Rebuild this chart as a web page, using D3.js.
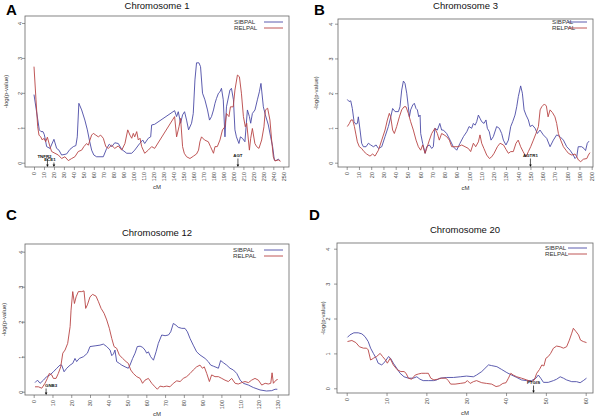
<!DOCTYPE html>
<html><head><meta charset="utf-8">
<script src="https://cdn.jsdelivr.net/npm/d3@7"></script>
<style>body{margin:0;background:#fff}svg{display:block;font-family:"Liberation Sans",Arial,sans-serif}</style>
</head><body><svg id="c" width="600" height="420"></svg>
<script>
// ---------- DATA ----------
const seriesNames = ["SIBPAL", "RELPAL"];
const yTicks = [0, 1, 2, 3, 4];

const chr1Ticks = [0,10,20,30,40,50,60,70,80,90,100,110,120,130,140,150,160,170,180,190,200,210,220,230,240,250];
const chr1Sibpal = [[0,1.95],[5.3,0.94],[7,0.89],[9,0.89],[10.4,0.8],[12.7,0.46],[16,0.41],[20,0.67],[22.7,0.41],[25,0.36],[27.7,0.22],[32.7,0.25],[36,0.38],[39.4,0.46],[42,0.49],[43.4,0.74],[45,1.7],[47.8,1.51],[51,1.22],[53.5,0.94],[55.5,0.65],[57.8,0.36],[60,0.22],[62.8,0.17],[69.5,0.17],[72.9,0.41],[75.5,0.53],[78,0.46],[81,0.57],[84.5,0.55],[88,0.38],[93,0.27],[98,0.27],[101,0.36],[106,0.55],[109,0.65],[111,0.55],[114.6,0.7],[117,0.74],[118,1.08],[121,1.1],[141,1.49],[143,1.32],[144.7,1.46],[147,1.13],[149,1.37],[151,1.46],[153,1.22],[155,0.94],[158,1.13],[159.7,1.41],[161.4,2.37],[163,2.86],[165.4,2.86],[167,2.75],[169,1.99],[171.4,1.8],[174,1.51],[176,1.22],[178,1.32],[180,1.51],[181.5,1.7],[183,1.84],[185,1.99],[186.5,2.03],[188,2.13],[189.8,1.8],[191.5,0.74],[193,1.6],[196.5,2.08],[198,2.13],[200,1.8],[201.5,0.94],[203,0.74],[205.5,0.55],[207,0.74],[209,0.7],[211.5,0.6],[214,1.51],[216,1.32],[217.3,1.13],[219,1.41],[221.6,1.51],[224,1.8],[226,2.03],[227.6,2.27],[230,1.6],[232,1.37],[235,1.08],[237.3,0.74],[239.3,0.46],[241,0.08],[242.6,0.06],[245,0.1],[246.6,0.06]];
const chr1Relpal = [[0,2.75],[2,1.8],[3.7,1.03],[5,0.79],[6.7,0.74],[8.4,0.65],[10,0.7],[11.7,0.6],[13.4,0.73],[16,0.46],[17.7,0.32],[21,0.27],[24.4,0.22],[27.7,0.12],[31,0.17],[34.4,0.06],[37.8,0.12],[41,0.17],[44.4,0.32],[47.8,0.36],[50,0.46],[52.8,0.55],[54.5,0.5],[56.1,0.65],[57.8,0.79],[59.5,0.84],[62,0.79],[64.5,0.74],[66.8,0.79],[69.5,0.7],[72,0.46],[74.5,0.41],[77.8,0.5],[81,0.41],[84.5,0.48],[88,0.36],[91.2,0.55],[94,0.94],[96.2,0.79],[98,0.7],[99.6,0.84],[101,0.74],[103,0.89],[104.6,0.65],[106.3,0.7],[108,0.46],[111,0.27],[114.6,0.36],[118,0.46],[121,0.41],[141,1.32],[143,0.74],[145.4,1.03],[147,1.27],[149,0.46],[150.7,0.27],[153,0.17],[156.4,0.12],[160,0.19],[163,0.25],[165,0.36],[166.4,0.6],[168,0.74],[171,0.65],[174.8,0.6],[177,0.46],[180,0.27],[181.5,0.46],[183.8,0.46],[186.5,0.65],[189,0.94],[191.5,1.03],[193,1.41],[195.5,1.32],[197,1.6],[199.8,1.6],[201.5,2.08],[204,2.51],[206,2.46],[208,1.99],[210,1.32],[211.9,1.03],[213.3,1.13],[215,0.65],[216,0.36],[217.3,0.7],[219,0.98],[221.5,0.55],[223.3,0.46],[225.6,0.41],[228.3,0.65],[230.6,1.03],[232,1.51],[234.3,1.56],[236.6,1.22],[238.3,0.65],[240,0.17],[241.6,0.05],[245,0.08],[247.3,0.04]];
const chr1Genes = [{name:"TNFR2", cM:13.5},{name:"ECE1", cM:20},{name:"AGT", cM:204.5}];

const chr3Ticks = [0,10,20,30,40,50,60,70,80,90,100,110,120,130,140,150,160,170,180,190,200];
const chr3Sibpal = [[0.5,1.82],[1.9,1.76],[3.3,1.78],[4.6,1.56],[6,1.18],[7.4,1.11],[8.7,1.13],[9.5,1.32],[10.9,0.94],[12.2,0.56],[13.6,0.46],[15.8,0.46],[17.7,0.56],[19.6,0.51],[21.8,0.46],[24,0.51],[25.9,0.41],[28.6,0.46],[31.3,0.75],[34,1.04],[36,1.32],[37.5,1.56],[39.5,1.47],[42.2,1.47],[43.5,1.61],[44.9,2.09],[46.3,2.35],[47.6,2.28],[49,2.0],[50.3,1.61],[51.2,1.32],[52.2,1.52],[53.9,1.66],[55.2,1.71],[56.6,1.56],[57.7,1.52],[58.8,1.32],[59.9,1.37],[60.4,0.84],[62,0.56],[64,0.27],[65.3,0.46],[67.5,0.51],[69.4,0.41],[70.7,0.46],[72,0.99],[74,0.94],[76,1.13],[77.5,0.94],[78.9,0.94],[81.6,0.84],[84.4,0.65],[87,0.46],[89.8,0.36],[92.5,0.56],[95.3,0.75],[98,0.89],[99.9,1.04],[102,0.99],[103.4,1.13],[104.8,1.08],[106.1,1.18],[107.5,1.37],[108.8,1.28],[110.2,1.18],[112.1,1.13],[113.7,1.23],[114.8,0.99],[116.4,0.89],[117.8,0.65],[119.7,0.75],[122.4,1.04],[124.6,0.99],[126.5,0.84],[127.9,0.65],[130,0.51],[132,0.65],[133.9,1.04],[135.5,1.18],[137.4,1.37],[138.8,1.61],[140.1,1.9],[142,2.21],[143.4,2.0],[144.8,1.52],[146.4,1.37],[148.3,1.23],[149.7,1.04],[151.6,1.08],[153.8,0.99],[155.6,0.84],[157.8,0.94],[160.5,0.8],[163.3,0.7],[166,0.46],[168.7,0.65],[171.4,0.8],[174.1,0.75],[176.9,0.65],[179.6,0.46],[182.3,0.36],[185,0.22],[186.4,0.12],[187.8,0.17],[189,0.46],[191.8,0.46],[193.7,0.41],[195,0.35],[196.4,0.56],[197.8,0.62]];
const chr3Relpal = [[0.5,1.04],[2.2,1.13],[3.5,1.23],[4.9,1.23],[6.3,1.04],[7.6,0.8],[8.7,0.6],[10.3,0.46],[12.2,0.41],[14.1,0.32],[16.3,0.25],[19,0.19],[21.2,0.25],[23.1,0.19],[25.9,0.36],[28.6,0.65],[31.3,0.94],[33.2,1.23],[34.8,1.42],[35.9,1.32],[37.5,0.94],[38.9,0.84],[40.8,1.04],[43,1.32],[44.9,1.52],[46.8,1.61],[48.4,1.61],[50.3,1.42],[52.2,1.18],[54.4,0.94],[56.6,0.65],[58.5,0.46],[60.4,0.36],[62,0.51],[64,0.27],[65.3,0.41],[67.5,0.65],[69.4,0.84],[72,0.99],[74,0.84],[75.6,0.65],[77.5,0.84],[79.5,0.8],[81.6,0.75],[83.8,0.65],[85.7,0.46],[88.4,0.46],[91,0.46],[93.9,0.51],[96.6,0.46],[99.3,0.41],[101.2,0.32],[103.4,0.56],[105.3,0.46],[107.5,0.6],[108.8,0.8],[110.2,0.56],[112,0.41],[114.3,0.22],[116.5,0.12],[118.4,0.17],[120.3,0.27],[123,0.46],[125.2,0.56],[128,0.51],[130.1,0.38],[132,0.27],[133.9,0.32],[136,0.32],[138.2,0.56],[140,0.65],[142,0.46],[144,0.32],[146.4,0.17],[148.3,0.32],[150.2,0.46],[152.4,0.65],[154.5,0.84],[156.5,1.04],[157.9,1.52],[159.2,1.61],[161.4,1.69],[163,1.63],[164.4,1.32],[166,1.52],[168,1.44],[170,1.32],[171.4,1.13],[172.8,0.84],[174.7,0.65],[176.9,0.46],[179,0.36],[181,0.27],[183.7,0.22],[186.4,0.25],[187.8,0.17],[189.1,0.08],[191,0.03],[193.2,0.1],[196,0.12],[197.3,0.22],[198.6,0.29]];
const chr3Genes = [{name:"AGTR1", cM:150}];

const chr12Ticks = [0,10,20,30,40,50,60,70,80,90,100,110,120,130];
const chr12Sibpal = [[0.7,0.26],[2,0.33],[3.4,0.24],[5.2,0.33],[6.9,0.43],[8.7,0.48],[10.5,0.57],[12.3,0.67],[14,0.76],[14.9,0.76],[16.2,0.57],[17.6,0.67],[19.4,0.76],[20.8,0.81],[22,0.95],[22.9,0.86],[24.3,0.95],[26.5,1.0],[28.6,1.1],[30,1.29],[32.7,1.31],[35.3,1.33],[37.1,1.36],[38.9,1.29],[40.7,1.19],[41.6,1.03],[42.5,1.08],[43.3,1.19],[44.2,0.86],[45.6,0.81],[46.9,0.76],[48.7,0.71],[50.4,0.67],[51.3,0.76],[52.7,0.95],[54,1.1],[55.2,1.29],[56.7,1.3],[58,1.27],[59.3,1.19],[60.2,1.1],[61.1,1.14],[62.3,1.0],[63.8,0.9],[65.2,1.14],[66.4,1.38],[68.2,1.62],[70,1.6],[71.8,1.62],[73,1.71],[74.4,1.95],[75.8,1.9],[77,1.84],[78.9,1.81],[80.6,1.81],[81.9,1.71],[83.3,1.52],[85,1.33],[86.8,1.14],[88.6,1.05],[91.3,0.95],[93,0.86],[94.3,0.76],[95.7,0.73],[97.1,0.7],[98.4,0.67],[99.6,0.89],[101,0.83],[102.8,0.76],[104.6,0.67],[106.4,0.62],[108.2,0.52],[110,0.33],[111.7,0.24],[114.4,0.19],[117,0.12],[120.6,0.05],[124,0.02],[126.8,0.03],[128.6,0.07],[129.8,0.07]];
const chr12Relpal = [[0.7,0.14],[2.5,0.14],[4.3,0.1],[6,0.24],[7.3,0.38],[8.3,0.52],[9.6,0.48],[10.5,0.38],[11.9,0.38],[13.1,0.52],[14.4,0.71],[15.5,1.1],[16.7,1.19],[18.1,1.38],[19.4,1.86],[19.9,2.33],[20.8,2.86],[21.7,2.52],[22.6,2.71],[23.8,2.86],[25.6,2.86],[26.8,2.88],[27.7,2.38],[28.6,2.48],[30,2.71],[31.4,2.78],[33.2,2.73],[34.5,2.57],[35.9,2.38],[37.5,2.24],[38.9,2.05],[40.3,1.81],[41.6,1.52],[42.8,1.29],[44.2,1.24],[45.6,1.05],[47.4,0.95],[49.2,0.86],[50.4,0.81],[51.7,0.62],[53.1,0.52],[54.9,0.43],[56.7,0.38],[58,0.24],[59.3,0.33],[61.1,0.38],[62.9,0.24],[64.6,0.14],[65.9,0.07],[67.3,0.16],[69.1,0.14],[70.9,0.16],[72.6,0.14],[74.4,0.24],[76.2,0.31],[78,0.29],[79.7,0.38],[81.5,0.43],[83.3,0.52],[85,0.62],[86.8,0.71],[88.6,0.76],[89.9,0.67],[90.9,0.71],[92.2,0.52],[93.6,0.29],[94.8,0.48],[96.6,0.43],[98.4,0.43],[100.2,0.38],[101.9,0.33],[103.7,0.29],[105.5,0.38],[107.3,0.24],[109,0.22],[110.8,0.26],[112.6,0.29],[114.4,0.26],[116.1,0.33],[117.9,0.38],[119.7,0.33],[121.5,0.19],[123.3,0.24],[125,0.22],[126.3,0.24],[127,0.54],[127.7,0.24],[129.1,0.33],[130,0.35]];
const chr12Genes = [{name:"GNB3", cM:6.6}];

const chr20Ticks = [0,10,20,30,40,50,60];
const chr20Sibpal = [[0.2,1.46],[0.8,1.53],[1.8,1.59],[2.9,1.59],[3.8,1.56],[4.6,1.48],[5.4,1.34],[6,1.15],[6.7,1.0],[7.4,0.86],[7.9,0.72],[8.8,0.67],[9.6,0.76],[10.5,0.91],[11,0.86],[11.7,0.72],[12.6,0.57],[13.4,0.43],[14.4,0.33],[15.5,0.29],[16.7,0.29],[17.6,0.33],[18.4,0.26],[19.2,0.22],[20.5,0.22],[21.8,0.22],[22.6,0.24],[23.4,0.29],[25.1,0.31],[26.8,0.31],[28.5,0.33],[30.1,0.35],[31.8,0.33],[32.6,0.38],[33.9,0.48],[34.7,0.57],[35.6,0.67],[36.4,0.65],[37.7,0.62],[38.9,0.54],[40.2,0.45],[41.4,0.38],[42.7,0.31],[43.9,0.24],[45.2,0.22],[46.4,0.22],[47.5,0.29],[48.1,0.38],[48.7,0.29],[49.4,0.17],[50.6,0.17],[51.9,0.22],[52.7,0.26],[53.6,0.33],[54.4,0.29],[55.2,0.24],[56.5,0.19],[57.7,0.19],[58.6,0.16],[59.4,0.22],[60.2,0.29]];
const chr20Relpal = [[0.2,1.34],[1.3,1.37],[2.3,1.31],[3.2,1.19],[4.2,1.15],[5,1.15],[5.4,1.1],[6,0.81],[6.7,0.86],[7.5,0.91],[8.4,1.0],[9,0.91],[9.6,0.83],[10.2,0.72],[10.9,0.86],[11.7,0.67],[12.7,0.53],[13.6,0.48],[14.4,0.48],[14.9,0.43],[15.5,0.29],[16.3,0.26],[17.2,0.38],[18,0.41],[18.8,0.43],[19.7,0.43],[20.5,0.43],[21.1,0.29],[21.9,0.24],[22.8,0.26],[23.8,0.29],[24.9,0.29],[25.5,0.22],[26.1,0.12],[27.2,0.12],[28.5,0.14],[29.7,0.16],[30.3,0.22],[31,0.14],[31.8,0.19],[32.6,0.22],[33.9,0.16],[35.1,0.14],[36.4,0.12],[37.5,0.05],[38.3,0.07],[39.2,0.14],[40,0.16],[40.6,0.29],[41.2,0.43],[41.8,0.38],[42.7,0.33],[43.9,0.29],[45.2,0.24],[46.4,0.19],[47.1,0.24],[47.7,0.43],[48.4,0.54],[49,0.67],[49.5,0.64],[50,0.86],[50.6,0.91],[51.2,1.0],[51.9,1.15],[52.7,1.21],[53.6,1.19],[54.4,1.15],[55.2,1.19],[55.9,1.38],[56.5,1.58],[56.9,1.72],[57.6,1.62],[58.2,1.53],[58.7,1.38],[59.4,1.34],[60.2,1.31]];
const chr20Genes = [{name:"PTGIS", cM:46.9}];

// ---------- LAYOUT ----------
const colors = {SIBPAL:"#4b4ba6", RELPAL:"#b84444"};
// label placement for gene markers (pixel offsets: dx from arrow, baseline above box bottom)
const geneLabelPos = {TNFR2:{dx:-3, up:9.5}, ECE1:{dx:-4, up:6}, AGT:{dx:0, up:10}, AGTR1:{dx:0, up:10}, GNB3:{dx:5, up:8}, PTGIS:{dx:0, up:9}};
const panels = [
  {letter:"A", title:"Chromosome 1", ticks:chr1Ticks, sib:chr1Sibpal, rel:chr1Relpal, genes:chr1Genes,
   box:[25,16,289,167], xr:[34,283.3], yr:[162.7,23], titleY:9, letterXY:[6,15], ylabX:6, ytickX:20, cmY:189, legX:234, legY:22},
  {letter:"B", title:"Chromosome 3", ticks:chr3Ticks, sib:chr3Sibpal, rel:chr3Relpal, genes:chr3Genes,
   box:[338,19,593,167], xr:[346.7,591.7], yr:[162.7,23.7], titleY:9, letterXY:[314,15], ylabX:316, ytickX:331, cmY:190, legX:552, legY:22},
  {letter:"C", title:"Chromosome 12", ticks:chr12Ticks, sib:chr12Sibpal, rel:chr12Relpal, genes:chr12Genes,
   box:[25,244,289,395], xr:[33.7,277.7], yr:[391.7,251.7], titleY:236, letterXY:[6,220], ylabX:4, ytickX:21, cmY:416, legX:233, legY:250},
  {letter:"D", title:"Chromosome 20", ticks:chr20Ticks, sib:chr20Sibpal, rel:chr20Relpal, genes:chr20Genes,
   box:[337,243,593,393], xr:[346.7,585.7], yr:[388.3,248.7], titleY:233, letterXY:[309,220], ylabX:323, ytickX:328, cmY:415, legX:545, legY:248}
];

const svg = d3.select("#c");
const tickCol = "#555";

panels.forEach(p => {
  const [l,t,r,b] = p.box;
  const x = d3.scaleLinear().domain([0, p.ticks[p.ticks.length-1]]).range(p.xr);
  const y = d3.scaleLinear().domain([0, 4]).range(p.yr);
  const g = svg.append("g");

  g.append("text").attr("x", p.letterXY[0]).attr("y", p.letterXY[1])
    .attr("font-size", 15).attr("font-weight", "bold").attr("fill", "#000").text(p.letter);
  g.append("text").attr("x", (l+r)/2).attr("y", p.titleY).attr("text-anchor","middle")
    .attr("font-size", 9.5).attr("fill", "#111").text(p.title);

  const line = d3.line().x(d => x(d[0])).y(d => y(d[1]));
  [["SIBPAL", p.sib], ["RELPAL", p.rel]].forEach(([name, data]) => {
    g.append("path").datum(data).attr("d", line).attr("fill","none")
      .attr("stroke", colors[name]).attr("stroke-width", 0.9).attr("stroke-linejoin","round");
  });

  g.append("rect").attr("x", l).attr("y", t).attr("width", r-l).attr("height", b-t)
    .attr("fill","none").attr("stroke","#666").attr("stroke-width",0.8);

  const xa = d3.axisBottom(x).tickValues(p.ticks).tickSize(3).tickFormat(d3.format("d"));
  const xg = g.append("g").attr("transform", `translate(0,${b})`).call(xa);
  xg.select(".domain").remove();
  xg.selectAll(".tick line").attr("stroke", tickCol).attr("stroke-width",0.6);
  xg.selectAll(".tick text").attr("font-size", 5.5).attr("fill", "#444").attr("font-family", null)
    .attr("text-anchor","end").attr("transform","rotate(-90)").attr("x",-5).attr("y",0).attr("dy","0.35em");

  const ya = d3.axisLeft(y).tickValues(yTicks).tickSize(3).tickFormat(d3.format("d"));
  const yg = g.append("g").attr("transform", `translate(${l},0)`).call(ya);
  yg.select(".domain").remove();
  yg.selectAll(".tick line").attr("stroke", tickCol).attr("stroke-width",0.6);
  yg.selectAll(".tick text").attr("font-size", 5.5).attr("fill","#444").attr("font-family", null)
    .attr("text-anchor","middle").attr("x",0)
    .attr("transform", `translate(${p.ytickX - l},0) rotate(-90)`)
    .attr("y", 0).attr("dy","0.35em");

  g.append("text").attr("x",(l+r)/2).attr("y",p.cmY).attr("text-anchor","middle")
    .attr("font-size",6).attr("fill","#333").text("cM");
  g.append("text").attr("transform",`translate(${p.ylabX},${(t+b)/2}) rotate(-90)`)
    .attr("text-anchor","middle").attr("dy","0.35em").attr("font-size",6).attr("fill","#333").text("-log(p-value)");

  seriesNames.forEach((name, i) => {
    const ly = p.legY + i*6;
    g.append("text").attr("x", p.legX).attr("y", ly).attr("dy","0.35em")
      .attr("font-size", 6.2).attr("fill","#333").text(name);
    g.append("line").attr("x1", r-25).attr("x2", r-6).attr("y1", ly).attr("y2", ly)
      .attr("stroke", colors[name]).attr("stroke-width", 0.9);
  });

  p.genes.forEach(gn => {
    const gx = x(gn.cM);
    const pos = geneLabelPos[gn.name];
    const ty = b - pos.up;
    g.append("text").attr("x", gx + pos.dx).attr("y", ty).attr("text-anchor","middle")
      .attr("font-size", 4.4).attr("font-weight","bold").attr("fill","#111").text(gn.name);
    g.append("line").attr("x1", gx).attr("x2", gx).attr("y1", ty+1.5).attr("y2", b-1.5)
      .attr("stroke","#111").attr("stroke-width",0.7);
    g.append("path").attr("d", `M${gx-1.3},${b-2.5}L${gx+1.3},${b-2.5}L${gx},${b}Z`).attr("fill","#111");
  });
});
</script></body></html>
